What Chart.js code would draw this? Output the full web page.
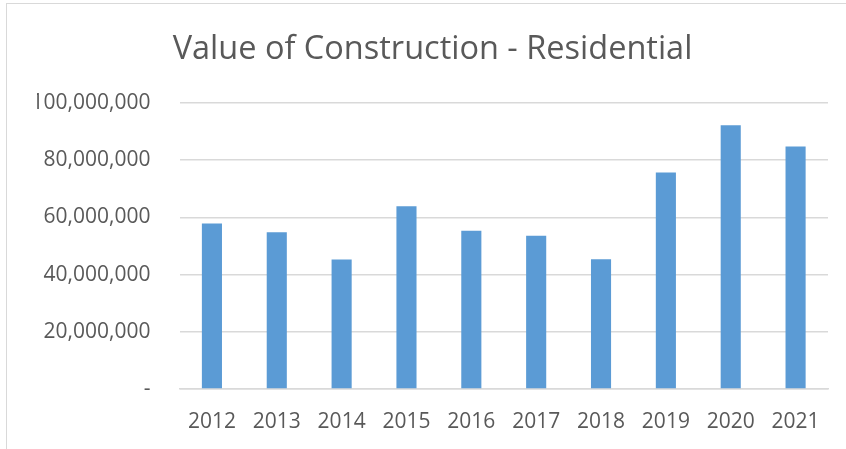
<!DOCTYPE html>
<html>
<head>
<meta charset="utf-8">
<script src="https://cdn.jsdelivr.net/npm/chart.js@4/dist/chart.umd.min.js"></script>
<style>
    body { margin: 0; background: #fff; }
    #frame {
        position: absolute; left: 6px; top: 3px; width: 840px; height: 446px;
        border-left: 1.5px solid #d9d9d9; border-top: 1.5px solid #d9d9d9;
    }
    #wrap { position: absolute; left: 0; top: 0; width: 846px; height: 449px; }
</style>
</head>
<body>
<div id="frame"></div>
<div id="wrap"><canvas id="constructionChart"></canvas></div>
<script>
// values
const years = ['2012', '2013', '2014', '2015', '2016', '2017', '2018', '2019', '2020', '2021'];
const residentialValue = [57900000, 54800000, 45300000, 63900000, 55300000, 53600000, 45400000, 75700000, 92200000, 84800000];
const yTicks = [0, 20000000, 40000000, 60000000, 80000000, 100000000];

const textColor = '#595959';
const gridColor = '#d9d9d9';

const ctx = document.getElementById('constructionChart').getContext('2d');
new Chart(ctx, {
    type: 'bar',
    data: {
        labels: years,
        datasets: [{
            label: 'Residential',
            data: residentialValue,
            backgroundColor: '#5b9bd5',
            barPercentage: 0.31,
            categoryPercentage: 1
        }]
    },
    options: {
        responsive: true,
        maintainAspectRatio: false,
        animation: false,
        layout: { padding: { left: 37, right: 18, top: 0, bottom: 17 } },
        plugins: {
            legend: { display: false },
            tooltip: { enabled: false },
            title: {
                display: true,
                text: 'Value of Construction - Residential',
                color: textColor,
                font: { family: 'Open Sans', size: 32.5, weight: 400 },
                padding: { top: 30, bottom: 34 }
            }
        },
        scales: {
            x: {
                afterFit: scale => { scale.height = 43; },
                grid: { display: false, drawTicks: false },
                border: { display: true, color: gridColor, width: 1.5 },
                ticks: {
                    color: textColor,
                    font: { family: 'Open Sans', size: 21 },
                    padding: 20,
                    maxRotation: 0
                }
            },
            y: {
                min: 0,
                max: 100000000,
                afterBuildTicks: scale => { scale.ticks = yTicks.map(v => ({ value: v })); },
                afterFit: scale => { scale.width = 142.5; },
                grid: { color: gridColor, lineWidth: 1.5, drawTicks: false },
                border: { display: false },
                ticks: {
                    color: textColor,
                    font: { family: 'Open Sans', size: 21 },
                    padding: 29,
                    callback: v => v === 0 ? '-' : v.toLocaleString('en-US')
                }
            }
        }
    }
});
</script>
</body>
</html>
